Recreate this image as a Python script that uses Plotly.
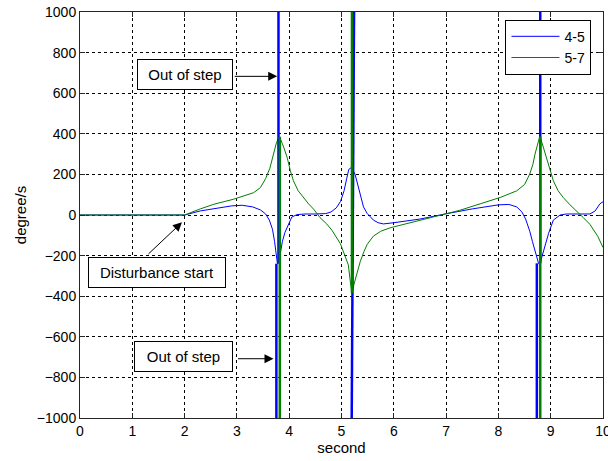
import plotly.graph_objects as go

# ---- data ----
x_45 = [0, 2.0, 2.3, 2.6, 2.9, 3.1, 3.3, 3.45, 3.55, 3.62, 3.68, 3.72, 3.75, 3.775, 3.80, 3.83, 3.87,
        3.92, 3.98, 4.05, 4.15, 4.3, 4.5, 4.7, 4.8, 4.9, 4.98, 5.05, 5.10, 5.14, 5.18, 5.22, 5.26,
        5.31, 5.36, 5.42, 5.49, 5.55, 5.61, 5.7, 5.8, 6.0, 6.5, 7.0, 7.5, 8.0, 8.2, 8.35, 8.45,
        8.52, 8.60, 8.65, 8.70, 8.74, 8.77, 8.80, 8.84, 8.89, 8.96, 9.05, 9.18, 9.3, 9.5, 9.75,
        9.85, 9.94, 10]
y_45 = [0, 0, 20, 33, 45, 48, 40, 25, 5, -25, -70, -130, -190, -240, -235, -190, -130,
        -85, -50, -10, 2, 5, 5, 7, 15, 35, 66, 120, 180, 225, 232, 220, 200,
        150, 90, 40, 8, -10, -25, -38, -44, -38, -20, 6, 30, 50, 52, 40, 15,
        -20, -80, -130, -175, -220, -240, -235, -200, -156, -90, -25, 0, 5, 5, 5,
        20, 55, 65]

x_57 = [0, 2.0, 2.3, 2.56, 2.94, 3.32, 3.45, 3.55, 3.63, 3.70, 3.75, 3.80, 3.84, 3.90, 3.96,
        4.02, 4.08, 4.17, 4.27, 4.37, 4.47, 4.59, 4.72, 4.82, 4.98, 5.05, 5.13, 5.17, 5.20,
        5.24, 5.30, 5.36, 5.43, 5.49, 5.61, 5.75, 5.93, 6.2, 6.57, 6.95, 7.26, 7.65, 8.03,
        8.35, 8.50, 8.60, 8.66, 8.70, 8.75, 8.79, 8.84, 8.92, 8.98, 9.05, 9.14, 9.24, 9.37,
        9.50, 9.62, 9.75, 9.81, 9.9, 10]
y_57 = [0, 0, 30, 53, 78, 110, 135, 180, 230, 300, 350, 385, 370, 330, 284,
        220, 169, 120, 86, 55, 28, -13, -45, -76, -142, -190, -245, -330, -385,
        -340, -280, -228, -180, -145, -104, -80, -63, -45, -21, 3, 23, 55, 86,
        119, 150, 202, 250, 300, 355, 387, 350, 284, 225, 169, 120, 86, 50,
        20, -12, -46, -70, -105, -160]

# out-of-step jumps (wrap-around spikes), segments [x0, x1, y0, y1]
jumps_45 = [[3.795, 3.795, 1000, -240], [3.755, 3.755, -240, -1000],
            [5.24, 5.195, 1000, -1000],
            [8.80, 8.80, 1000, -238], [8.735, 8.735, -238, -1000]]
jumps_57 = [[3.82, 3.82, 385, -1000], [5.20, 5.20, 1000, -385], [8.80, 8.80, 387, -1000]]

x_ticks = [0, 1, 2, 3, 4, 5, 6, 7, 8, 9, 10]
y_ticks = [-1000, -800, -600, -400, -200, 0, 200, 400, 600, 800, 1000]

BLUE = "#0000FF"
GREEN = "#008000"


def seg_xy(segs):
    xs, ys = [], []
    for x0, x1, y0, y1 in segs:
        xs += [x0, x1, None]
        ys += [y0, y1, None]
    return xs, ys


fig = go.Figure()
fig.add_trace(go.Scatter(x=x_45, y=y_45, mode="lines", name="4-5",
                         line=dict(color=BLUE, width=1)))
fig.add_trace(go.Scatter(x=x_57, y=y_57, mode="lines", name="5-7",
                         line=dict(color=GREEN, width=1)))
jx, jy = seg_xy(jumps_45)
fig.add_trace(go.Scatter(x=jx, y=jy, mode="lines", showlegend=False,
                         line=dict(color=BLUE, width=2.5)))
jx, jy = seg_xy(jumps_57)
fig.add_trace(go.Scatter(x=jx, y=jy, mode="lines", showlegend=False,
                         line=dict(color=GREEN, width=2.5)))

FONT = "Liberation Sans, Arial, sans-serif"
axis_common = dict(showline=True, linecolor="#262626", linewidth=1, mirror="ticks",
                   ticks="inside", ticklen=5, tickcolor="#262626", automargin=False,
                   showgrid=True, gridcolor="#000000", gridwidth=1, griddash="3px,3px",
                   zeroline=False, ticklabeloverflow="allow",
                   tickfont=dict(size=14, color="#000000", family=FONT))

fig.update_xaxes(range=[0, 10], tickvals=x_ticks, **axis_common,
                 title=dict(text="second", font=dict(size=15, family=FONT, color="#000"),
                            standoff=2))
fig.update_yaxes(range=[-1000, 1000], tickvals=y_ticks, **axis_common,
                 title=dict(text="degree/s", font=dict(size=15, family=FONT, color="#000"),
                            standoff=6))

PL, PT, PW, PH = 79.5, 12.3, 523.5, 405.4
ann_font = dict(size=15, family=FONT, color="#000000")


def px2paper(px, py):
    return (px - PL) / PW, (PT + PH - py) / PH


# text boxes
for cx, cy, txt, w in [(184.5, 75, "Out of step", 84), (156.7, 272.8, "Disturbance start", 126),
                       (182.8, 355.8, "Out of step", 87)]:
    xp, yp = px2paper(cx, cy)
    fig.add_annotation(xref="paper", yref="paper", x=xp, y=yp, xanchor="center",
                       yanchor="middle", text=txt, showarrow=False,
                       font=ann_font, bordercolor="#000", borderwidth=1, borderpad=5,
                       bgcolor="#fff", width=w, height=19)
# arrows
for hx, hy, ax, ay in [(3.77, 683, -44, 0), (1.95, -36, -35, 33), (3.70, -708, -37, 0)]:
    fig.add_annotation(x=hx, y=hy, xref="x", yref="y", text="", showarrow=True,
                       arrowhead=2, arrowsize=1.8, arrowwidth=1, arrowcolor="#000",
                       ax=ax, ay=ay)

fig.update_layout(
    width=608, height=461,
    margin=dict(l=PL, r=608 - PL - PW, t=PT, b=461 - PT - PH),
    paper_bgcolor="#ffffff", plot_bgcolor="#ffffff",
    font=dict(family=FONT, size=14, color="#000"),
    legend=dict(x=0.978, y=0.981, xanchor="right", yanchor="top",
                bordercolor="#000", borderwidth=1, bgcolor="#fff", itemwidth=48,
                font=dict(size=14, family=FONT, color="#000"), tracegroupgap=0),
    showlegend=True,
)

fig.write_html("out.html", post_script="document.body.style.margin='0px';",
               config={"displayModeBar": False})
